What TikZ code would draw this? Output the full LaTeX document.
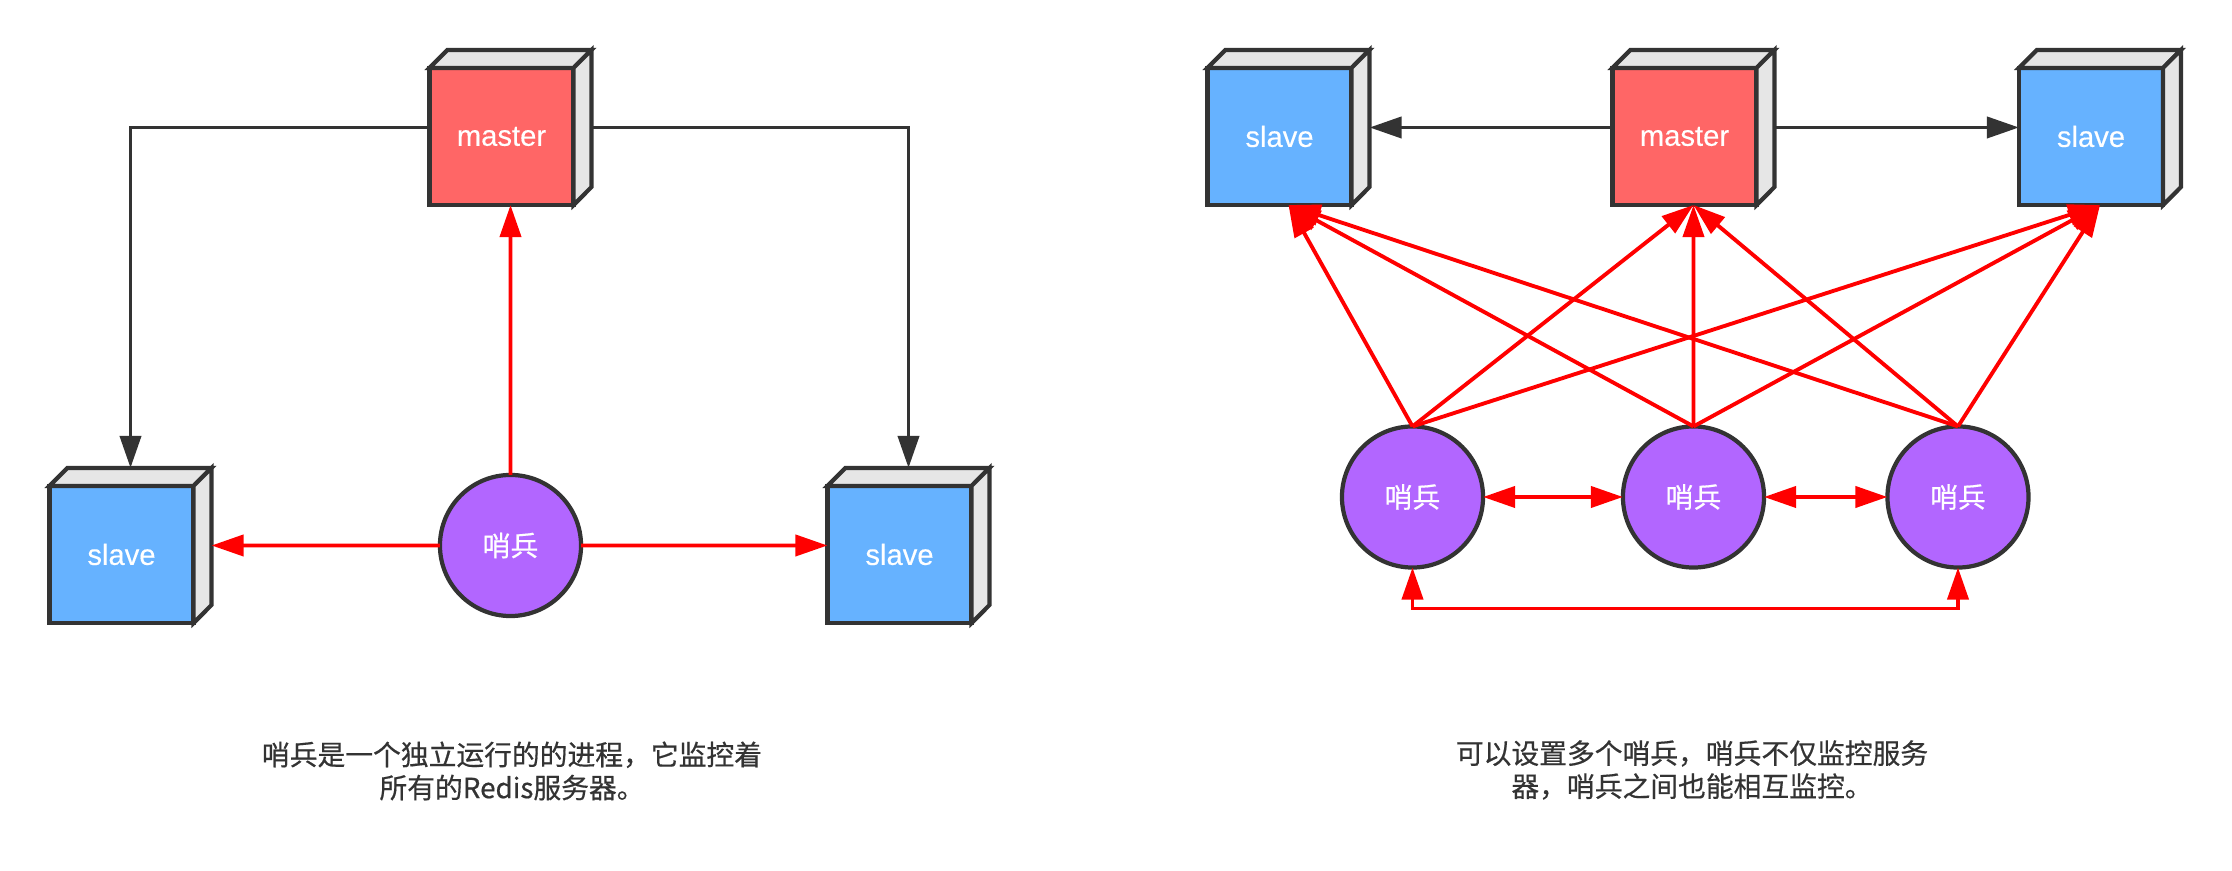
\documentclass[tikz,border=0pt]{standalone}
\usepackage{fontspec}
\setmainfont{Liberation Sans}[FakeBold=0.3]
\newfontfamily\cjk{Noto Sans CJK SC}[FakeBold=0.5]
\usetikzlibrary{arrows.meta}

\definecolor{edge}{HTML}{333333}
\definecolor{masterred}{HTML}{FF6666}
\definecolor{slaveblue}{HTML}{66B2FF}
\definecolor{sidegray}{HTML}{E6E6E6}
\definecolor{sentinelpurple}{HTML}{B266FF}

\tikzset{
  cubefront/.style={draw=edge, line width=1.2pt, minimum width=1.44cm, minimum height=1.37cm,
    inner sep=0pt, outer sep=0pt, text=white, font=\fontsize{8.3pt}{10pt}\selectfont},
  cubeside/.style={draw=edge, fill=sidegray, line width=1.2pt},
  sentinel/.style={circle, draw=edge, fill=sentinelpurple, line width=1.2pt, minimum size=1.41cm,
    inner sep=0pt, outer sep=0pt, text=white, font=\cjk\fontsize{7.9pt}{9pt}\selectfont},
  sync/.style={draw=edge, line width=1.1pt, ->},
  watch/.style={draw=red, line width=1.1pt, ->},
  caption/.style={align=center, text=edge, font=\cjk\fontsize{7.9pt}{9.4pt}\selectfont}
}

\newcommand{\redisbox}[4]{%
  \node[cubefront, fill=#3] (#1) at (#2) {#4};
  \filldraw[cubeside] (#1.north west) -- ++(18,-18) -- ++(144,0) -- (#1.north east) -- cycle;
  \filldraw[cubeside] (#1.north east) -- ++(18,-18) -- ++(0,137) -- (#1.south east) -- cycle;
  \coordinate (#1-n) at ([xshift=0.09cm,yshift=0.18cm]#1.north);
  \coordinate (#1-s) at ([xshift=0.09cm]#1.south);
  \coordinate (#1-w) at ([yshift=0.09cm]#1.west);
  \coordinate (#1-e) at ([xshift=0.18cm,yshift=0.09cm]#1.east);
}

\begin{document}
\begin{tikzpicture}[x=0.01cm, y=-0.01cm, >={Triangle[length=0.32cm,width=0.21cm]}]
\useasboundingbox (0,0) rectangle (2232,871);

\redisbox{lm}{501.5,136.5}{masterred}{master}
\redisbox{ls1}{121.5,554.5}{slaveblue}{slave}
\redisbox{ls2}{899.5,554.5}{slaveblue}{slave}
\node[sentinel] (lt) at (510.5,545.5) {哨兵};

\draw[sync] (lm-w) -| (ls1-n);
\draw[sync] (lm-e) -| (ls2-n);
\draw[watch] (lt.north) -- (lm-s);
\draw[watch] (lt.west) -- (ls1-e);
\draw[watch] (lt.east) -- (ls2-w);

\node[caption] (capl) at (512,771) {哨兵是一个独立运行的的进程，它监控着\\所有的Redis服务器。};

\redisbox{rs1}{1279.5,136.5}{slaveblue}{slave}
\redisbox{rm}{1684.5,136.5}{masterred}{master}
\redisbox{rs2}{2091,136.5}{slaveblue}{slave}
\node[sentinel] (t1) at (1412.5,497) {哨兵};
\node[sentinel] (t2) at (1693.5,497) {哨兵};
\node[sentinel] (t3) at (1958,497) {哨兵};

\draw[sync] (rm-w) -- (rs1-e);
\draw[sync] (rm-e) -- (rs2-w);
\foreach \t in {t1,t2,t3}
  \foreach \b in {rs1,rm,rs2}
    \draw[watch] (\t.north) -- (\b-s);
\draw[watch, <->] (t1.east) -- (t2.west);
\draw[watch, <->] (t2.east) -- (t3.west);
\draw[watch, <->] (t1.south) -- ++(0,41) -| (t3.south);

\node[caption] (capr) at (1692,770) {可以设置多个哨兵，哨兵不仅监控服务\\器，哨兵之间也能相互监控。};
\end{tikzpicture}
\end{document}
